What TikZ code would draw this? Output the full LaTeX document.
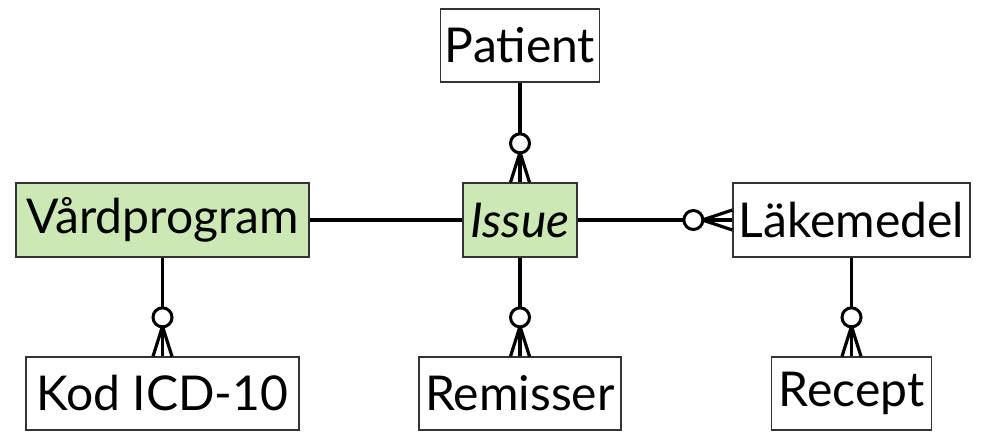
\documentclass[tikz,border=0pt]{standalone}
\usepackage{fontspec}
\setmainfont{Lato}
\begin{document}
\begin{tikzpicture}[x=1pt,y=1pt,
  ent/.style={draw=black!80,line width=1.3pt,minimum height=73pt,inner sep=0pt,
    font=\fontsize{48}{54}\selectfont,text=black},
  rel/.style={line width=3.8pt,black},
  ring/.style={draw=black,line width=3pt,fill=white}]
\useasboundingbox (0,0) rectangle (987,-433);
\definecolor{eg}{RGB}{204,232,181}
\node[ent,minimum width=159pt] (pat) at (520,-45.5) {Patient};
\node[ent,fill=eg,minimum width=293pt,minimum height=74pt] (vard) at (162.5,-220) {Vårdprogram};
\node[ent,fill=eg,minimum width=114pt,minimum height=74pt] (iss) at (520,-220) {\itshape Issue};
\node[ent,minimum width=237pt,minimum height=74pt] (lak) at (851.5,-220) {Läkemedel};
\node[ent,minimum width=273pt] (kod) at (162.5,-393.5) {Kod ICD-10};
\node[ent,minimum width=202pt] (rem) at (520,-393.5) {Remisser};
\node[ent,minimum width=160pt] (rec) at (851.5,-393.5) {Recept};
% lines
\draw[rel] (pat.south) -- (iss.north);
\draw[rel] (vard.east) -- (iss.west);
\draw[rel] (iss.east) -- (lak.west);
\draw[rel] (vard.south) -- (kod.north);
\draw[rel] (iss.south) -- (rem.north);
\draw[rel] (lak.south) -- (rec.north);
% crow's feet vertical
\foreach \t in {iss,kod,rem,rec}{
  \draw[rel,line width=3.2pt] ([xshift=-9.5pt]\t.north) -- ([yshift=30pt]\t.north) -- ([xshift=9.5pt]\t.north);
  \draw[ring] ([yshift=39pt]\t.north) circle (9.5pt);
}
% horizontal
\draw[rel,line width=3.2pt] ([yshift=10pt]lak.west) -- ([xshift=-30pt]lak.west) -- ([yshift=-10pt]lak.west);
\draw[ring] ([xshift=-39pt]lak.west) circle (9.5pt);
\end{tikzpicture}
\end{document}
